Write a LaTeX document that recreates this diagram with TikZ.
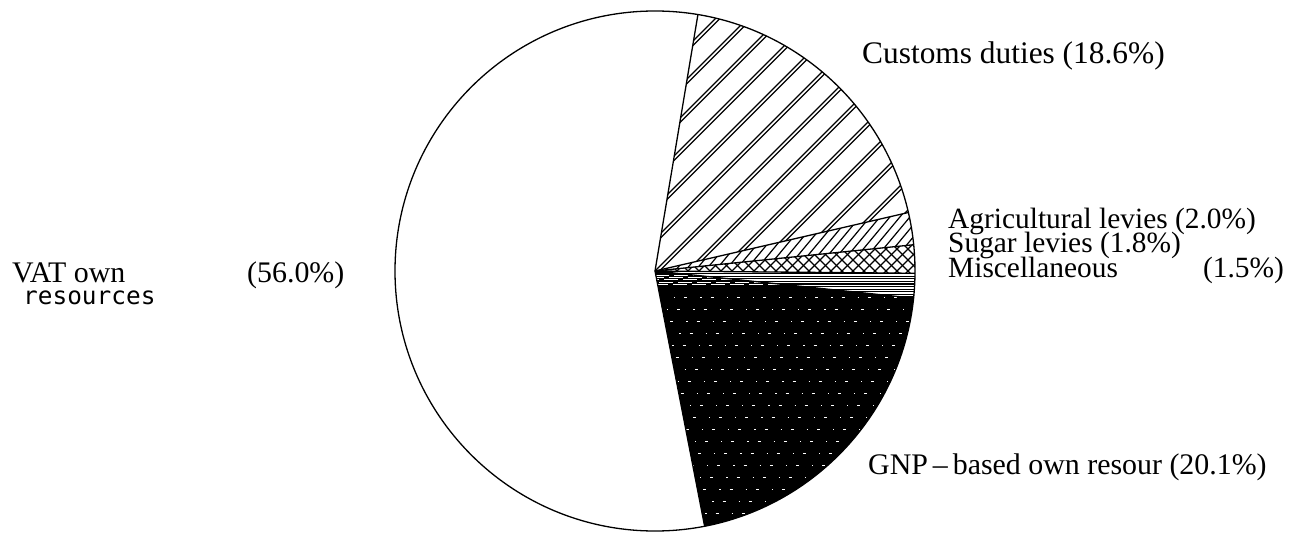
\documentclass[tikz,border=0pt]{standalone}
\usepackage{fontspec}
\setmainfont{Liberation Serif}
\newfontfamily\monofnt{DejaVu Sans Mono}
\begin{document}
\begin{tikzpicture}[x=1bp,y=1bp,
  lbl/.style={inner sep=0pt, font=\fontsize{30}{30}\selectfont},
  rlbl/.style={inner sep=0pt, font=\fontsize{31.5}{31.5}\selectfont},
  slbl/.style={inner sep=0pt, font=\fontsize{29.5}{29.5}\selectfont},
  monolbl/.style={inner sep=0pt, font=\monofnt\fontsize{24.5}{24.5}\selectfont},
  edge/.style={line width=1.3bp},
  hatch/.style={line width=1.2bp}]
\useasboundingbox (0,-535) rectangle (1303,0);
\begin{scope}[shift={(655,-271)}]
\def\R{260}
\coordinate (O) at (0,0);
% GNP-based own resources (solid dark)
\fill[black] (O) -- (281:\R) arc[start angle=281,end angle=354,radius=\R] -- cycle;
\begin{scope}
\clip (O) -- (281:\R) arc[start angle=281,end angle=354,radius=\R] -- cycle;
\foreach \j in {1,...,20}
  \draw[white, line width=0.6bp, dash pattern=on 1.2bp off 9bp on 3bp off 13bp, dash phase=\j*7bp] (0,-14-\j*12) -- (270,-14-\j*12);
\foreach \j in {0,...,4}
  \draw[white, line width=0.8bp, dash pattern=on 14bp off 5bp, dash phase=\j*5bp] (0,-4-\j*2.3) -- (270,-4-\j*2.3);
\end{scope}
% Miscellaneous (horizontal lines)
\begin{scope}
\clip (O) -- (354:\R) arc[start angle=354,end angle=359.5,radius=\R] -- cycle;
\foreach \j in {0,...,12}
  \draw[hatch] (0,-\j*2.6) -- (270,-\j*2.6);
\end{scope}
% Sugar levies (crosshatch)
\begin{scope}
\clip (O) -- (359.5:\R) arc[start angle=359.5,end angle=365.8,radius=\R] -- cycle;
\foreach \k in {-4,...,26} {
  \draw[hatch] (\k*11-40,-40) -- (\k*11+40,40);
  \draw[hatch] (\k*11-40,40) -- (\k*11+40,-40);
}
\end{scope}
% Agricultural levies (dense diagonal)
\begin{scope}
\clip (O) -- (5.8:\R) arc[start angle=5.8,end angle=13,radius=\R] -- cycle;
\foreach \k in {-10,...,28}
  \draw[hatch] (\k*10-64,-77) -- (\k*10+64,77);
\end{scope}
% Customs duties (wide double diagonal)
\begin{scope}
\clip (O) -- (13:\R) arc[start angle=13,end angle=80.5,radius=\R] -- cycle;
\foreach \k in {-10,...,10} {
  \draw[hatch] (\k*32-300,-300) -- (\k*32+300,300);
  \draw[hatch] (\k*32+4.5-300,-300) -- (\k*32+4.5+300,300);
}
\end{scope}
% outlines
\draw[edge] (O) circle[radius=\R];
\foreach \a in {80.5,281,354,359.5,5.8,13}
  \draw[edge] (O) -- (\a:\R);
\end{scope}
% labels
\node[rlbl, anchor=base west] (cust) at (862,-64) {Customs duties (18.6\%)};
\node[slbl, anchor=base west] (agri) at (948,-229) {Agricultural levies (2.0\%)};
\node[slbl, anchor=base west] (sugar) at (948,-253) {Sugar levies (1.8\%)};
\node[slbl, anchor=base west] (misc) at (948,-277) {Miscellaneous};
\node[slbl, anchor=base east] (miscp) at (1284,-277) {(1.5\%)};
\node[lbl, anchor=base west] (vat) at (12,-282) {VAT own};
\node[lbl, anchor=base west] (vatp) at (247,-282) {(56.0\%)};
\node[monolbl, anchor=base west] (res) at (23,-304) {resources};
\node[lbl, anchor=base west] (gnp) at (868,-474) {GNP\,–\,based own resour (20.1\%)};
\end{tikzpicture}
\end{document}
